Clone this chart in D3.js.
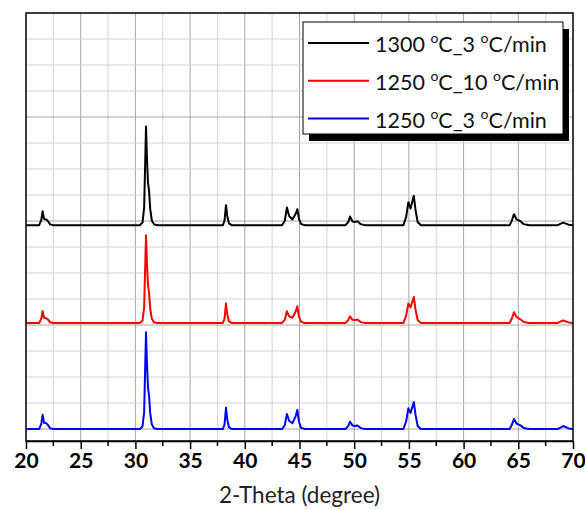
<!DOCTYPE html>
<html>
<head>
<meta charset="utf-8">
<script src="https://cdn.jsdelivr.net/npm/d3@7"></script>
<style>
  html, body { margin: 0; padding: 0; background: #fff; }
  svg { display: block; }
</style>
</head>
<body>
<div id="xrd"></div>
<script>
const WIDTH = 585;
const HEIGHT = 509;

// 2-theta positions (shared by all three patterns)
const theta = [
  20, 21.2, 21.4, 21.52, 21.65, 21.85, 22.0, 22.2, 22.5,
  30.4, 30.65, 30.8, 30.92, 30.97, 31.05, 31.15, 31.25, 31.35, 31.5, 31.7, 32.0,
  38.0, 38.15, 38.28, 38.4, 38.55, 38.8,
  43.4, 43.65, 43.85, 44.05, 44.35, 44.65, 44.8, 44.95, 45.15, 45.5,
  49.2, 49.45, 49.62, 49.85, 50.05, 50.3, 50.6, 51.0,
  54.5, 54.75, 54.95, 55.15, 55.45, 55.6, 55.8, 56.1,
  64.2, 64.4, 64.6, 64.85, 65.2, 65.5, 66.0,
  68.6, 69.1, 69.6, 70
];

// intensity above each pattern's own baseline (a.u.)
const int1300_3 = [
  0, 0, 50, 135, 60, 55, 40, 8, 0,
  0, 25, 170, 720, 948, 660, 410, 330, 160, 45, 8, 0,
  0, 45, 192, 85, 18, 0,
  0, 40, 170, 90, 55, 110, 154, 60, 10, 0,
  0, 30, 83, 35, 30, 38, 10, 0,
  0, 80, 221, 160, 282, 150, 30, 0,
  0, 40, 106, 55, 38, 10, 0,
  0, 24, 5, 0
];
const int1250_10 = [
  0, 0, 40, 115, 50, 45, 35, 7, 0,
  0, 22, 150, 640, 843, 590, 365, 290, 140, 40, 7, 0,
  0, 42, 187, 80, 16, 0,
  0, 30, 112, 65, 50, 110, 160, 60, 10, 0,
  0, 25, 64, 30, 28, 32, 8, 0,
  0, 70, 187, 150, 250, 130, 28, 0,
  0, 40, 103, 55, 35, 10, 0,
  0, 24, 5, 0
];
const int1250_3 = [
  0, 0, 50, 138, 60, 55, 40, 8, 0,
  0, 25, 165, 705, 930, 650, 400, 320, 155, 45, 8, 0,
  0, 46, 205, 88, 18, 0,
  0, 35, 144, 80, 55, 125, 183, 70, 12, 0,
  0, 28, 70, 33, 30, 35, 9, 0,
  0, 75, 199, 155, 260, 140, 30, 0,
  0, 38, 96, 52, 35, 10, 0,
  0, 29, 6, 0
];

const seriesNames = ["1300 °C_3 °C/min", "1250 °C_10 °C/min", "1250 °C_3 °C/min"];
const seriesColors = ["#000000", "#ff0000", "#0000ff"];
const seriesOffsets = [1960, 1020, 0];
const seriesValues = [int1300_3, int1250_10, int1250_3];

const xTicks = [20, 25, 30, 35, 40, 45, 50, 55, 60, 65, 70];

const margin = { top: 13, right: 12, bottom: 68, left: 26 };
const innerW = WIDTH - margin.left - margin.right;
const innerH = HEIGHT - margin.top - margin.bottom;

const x = d3.scaleLinear().domain([20, 70]).range([0, innerW]);
const y = d3.scaleLinear().domain([-115, 4000]).range([innerH, 0]);

const svg = d3.select("#xrd").append("svg")
  .attr("width", WIDTH)
  .attr("height", HEIGHT)
  .style("font-family", "Lato, 'Open Sans', sans-serif");

const g = svg.append("g").attr("transform", `translate(${margin.left},${margin.top})`);

// grid
const xGrid = d3.range(20, 70.01, 2.5).filter(v => v > 20 && v < 70);
g.append("g").selectAll("line")
  .data(xGrid)
  .join("line")
  .attr("x1", d => x(d)).attr("x2", d => x(d))
  .attr("y1", 0).attr("y2", innerH)
  .attr("stroke", d => d % 5 === 0 ? "#a6a6a6" : "#d4d4d4")
  .attr("stroke-width", 1);

const yGrid = d3.range(0, 4000, 250);
g.append("g").selectAll("line")
  .data(yGrid)
  .join("line")
  .attr("x1", 0).attr("x2", innerW)
  .attr("y1", d => y(d)).attr("y2", d => y(d))
  .attr("stroke", d => d % 1000 === 0 ? "#a6a6a6" : "#d4d4d4")
  .attr("stroke-width", 1);

// traces
const line = d3.line()
  .x(d => x(d[0]))
  .y(d => y(d[1]));

seriesValues.forEach((vals, i) => {
  const pts = theta.map((t, k) => [t, vals[k] + seriesOffsets[i]]);
  g.append("path")
    .datum(pts)
    .attr("fill", "none")
    .attr("stroke", seriesColors[i])
    .attr("stroke-width", 2)
    .attr("stroke-linejoin", "round")
    .attr("d", line);
});

// frame
g.append("rect")
  .attr("x", 0).attr("y", 0)
  .attr("width", innerW).attr("height", innerH)
  .attr("fill", "none")
  .attr("stroke", "#000")
  .attr("stroke-width", 1.5);

// x axis
const xAxis = g.append("g")
  .attr("transform", `translate(0,${innerH})`)
  .call(d3.axisBottom(x).tickValues(xTicks).tickSize(8).tickSizeOuter(0).tickPadding(4));
xAxis.select(".domain").attr("stroke-width", 1.5);
xAxis.selectAll(".tick line").attr("stroke-width", 1.5);
xAxis.selectAll("text")
  .attr("font-size", 21)
  .attr("font-weight", "bold")
  .attr("font-family", "Lato, 'Open Sans', sans-serif")
  .attr("fill", "#000");

g.append("g")
  .selectAll("line")
  .data(d3.range(22.5, 70, 5))
  .join("line")
  .attr("x1", d => x(d)).attr("x2", d => x(d))
  .attr("y1", innerH).attr("y2", innerH + 5)
  .attr("stroke", "#000")
  .attr("stroke-width", 1.5);

svg.append("text")
  .attr("x", margin.left + innerW / 2)
  .attr("y", 503)
  .attr("text-anchor", "middle")
  .attr("font-size", 22.5)
  .attr("fill", "#222")
  .text("2-Theta (degree)");

// legend
const lg = svg.append("g").attr("transform", "translate(303,22)");
lg.append("rect")
  .attr("x", 6).attr("y", 7)
  .attr("width", 260).attr("height", 112)
  .attr("fill", "#000");
lg.append("rect")
  .attr("x", 0).attr("y", 0)
  .attr("width", 260).attr("height", 112)
  .attr("fill", "#fff")
  .attr("stroke", "#000")
  .attr("stroke-width", 1);

const item = lg.selectAll(".item")
  .data(seriesNames)
  .join("g")
  .attr("class", "item")
  .attr("transform", (d, i) => `translate(0,${21 + i * 37.8})`);

item.append("line")
  .attr("x1", 5).attr("x2", 66)
  .attr("stroke", (d, i) => seriesColors[i])
  .attr("stroke-width", 2);

item.each(function(d) {
  const parts = d.split("°");
  const t = d3.select(this).append("text")
    .attr("x", 72)
    .attr("y", 9)
    .attr("font-size", 21.5)
    .attr("fill", "#111");
  parts.forEach((p, k) => {
    if (k > 0) {
      t.append("tspan").attr("font-size", 14).attr("dy", -9).text("o");
      t.append("tspan").attr("dy", 9).text(p);
    } else {
      t.append("tspan").text(p);
    }
  });
});
</script>
</body>
</html>
